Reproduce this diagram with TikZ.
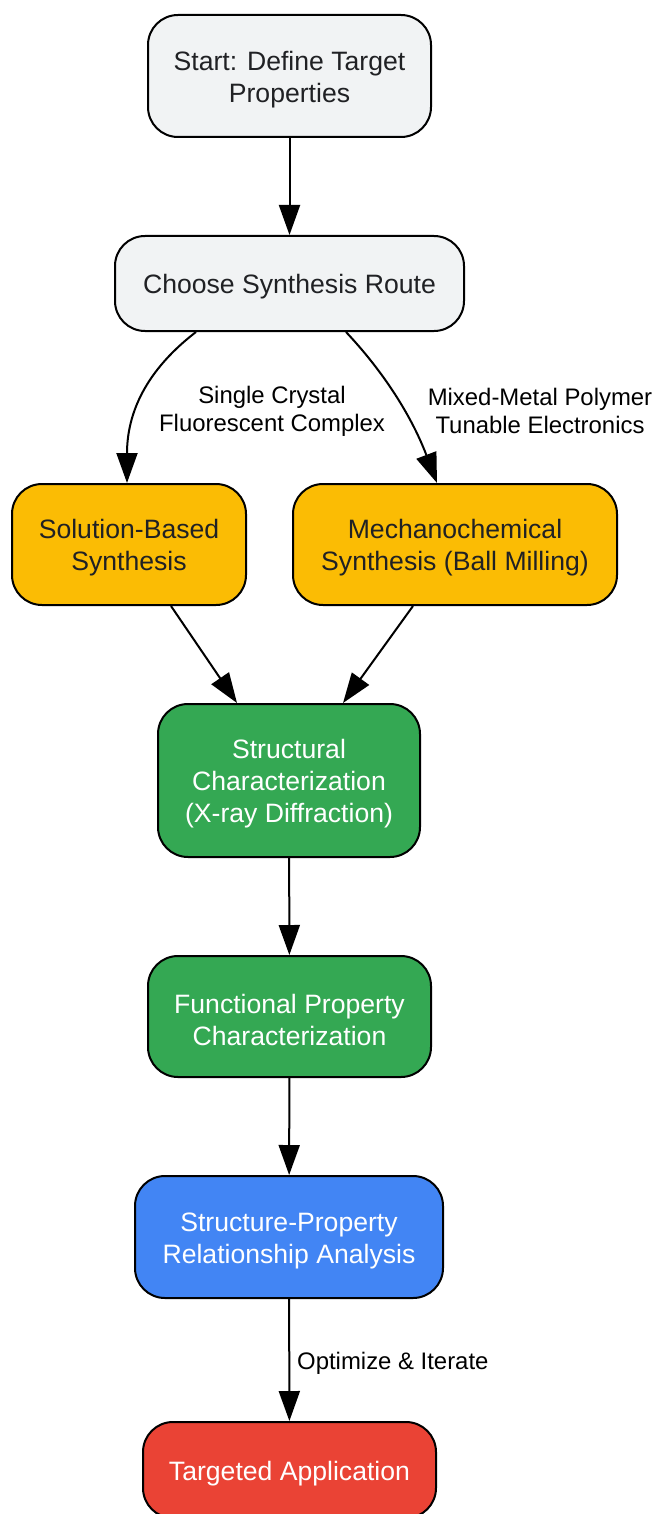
\documentclass[tikz,border=0pt]{standalone}
\usepackage{fontspec}
\setmainfont{Liberation Sans}
\usetikzlibrary{arrows.meta}
\definecolor{gfill}{HTML}{F1F3F4}
\definecolor{yfill}{HTML}{FBBC04}
\definecolor{grfill}{HTML}{34A853}
\definecolor{bfill}{HTML}{4285F4}
\definecolor{rfill}{HTML}{EA4335}
\definecolor{dtext}{HTML}{202124}
\newcommand\topstrut{\rule{0pt}{26pt}}
\tikzset{
  box/.style={draw=black, line width=2pt, rounded corners=30pt, inner sep=0pt, align=center,
    font=\fontsize{26.6pt}{31.8pt}\selectfont},
  graybox/.style={box, fill=gfill, text=dtext},
  yelbox/.style={box, fill=yfill, text=dtext},
  grnbox/.style={box, fill=grfill, text=white},
  blubox/.style={box, fill=bfill, text=white},
  redbox/.style={box, fill=rfill, text=white},
  conn/.style={line width=2pt, -{Triangle[length=30pt,width=21pt]}},
  elabel/.style={align=center, inner sep=0pt, text=black, font=\fontsize{23.9pt}{28pt}\selectfont}
}
\begin{document}
\begin{tikzpicture}[x=1pt,y=-1pt]
\useasboundingbox (0,0) rectangle (657,1514);
\node[graybox, minimum width=283pt, minimum height=122pt] (start) at (289.5,76) {\topstrut Start: Define Target\\Properties};
\node[graybox, minimum width=349pt, minimum height=95pt] (choose) at (289.5,283.5) {\topstrut Choose Synthesis Route};
\node[yelbox, minimum width=234pt, minimum height=121pt] (sol) at (129,544.5) {\topstrut Solution-Based\\Synthesis};
\node[yelbox, minimum width=324pt, minimum height=121pt] (mech) at (455,544.5) {\topstrut Mechanochemical\\Synthesis (Ball Milling)};
\node[grnbox, minimum width=262pt, minimum height=153pt] (struct) at (289,780.5) {\topstrut Structural\\Characterization\\(X-ray Diffraction)};
\node[grnbox, minimum width=283pt, minimum height=121pt] (func) at (289.5,1016.5) {\topstrut Functional Property\\Characterization};
\node[blubox, minimum width=308pt, minimum height=122pt] (sp) at (289,1237) {\topstrut Structure-Property\\Relationship Analysis};
\node[redbox, minimum width=293pt, minimum height=96pt] (app) at (289.5,1470) {\topstrut Targeted Application};

\draw[conn] (start) -- (choose);
\draw[conn] ([xshift=-93.5pt]choose.south) .. controls (140,375) and (127,420) .. ([xshift=-2pt]sol.north);
\draw[conn] ([xshift=56.5pt]choose.south) .. controls (380,368) and (410,412) .. ([xshift=-18pt]mech.north);
\draw[conn] ([xshift=42pt]sol.south) -- ([xshift=-52pt]struct.north);
\draw[conn] ([xshift=-42pt]mech.south) -- ([xshift=54pt]struct.north);
\draw[conn] (struct) -- (func);
\draw[conn] (func) -- (sp);
\draw[conn] (sp) -- (app);

\node[elabel] (l1) at (272,411) {Single Crystal\\Fluorescent Complex};
\node[elabel] (l2) at (540,411) {Mixed-Metal Polymer\\Tunable Electronics};
\node[elabel, anchor=west] (l3) at (297,1363) {Optimize \& Iterate};
\end{tikzpicture}
\end{document}
